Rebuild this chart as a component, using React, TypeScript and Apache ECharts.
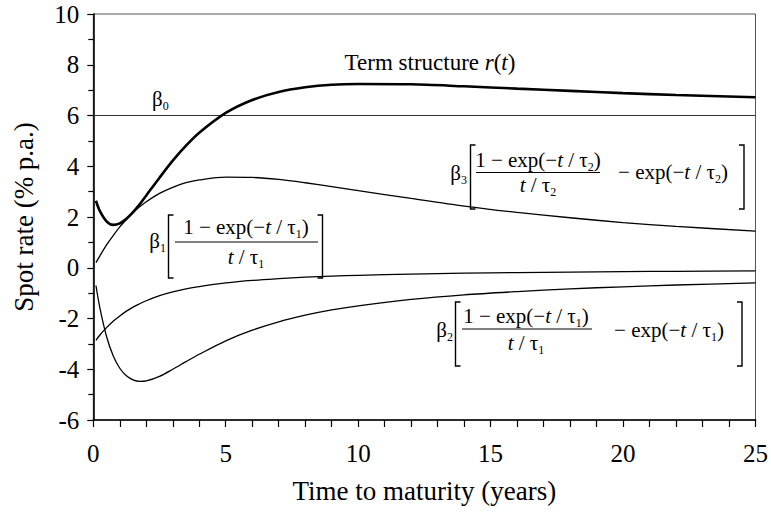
import React, { useEffect, useRef } from "react";
import * as echarts from "echarts";

const FONT = "Liberation Serif";

// Maturities (years) at which the curves were read
const MATURITIES = [0.1, 0.25, 0.5, 0.75, 1, 1.25, 1.5, 1.75, 2, 2.5, 3, 3.5, 4, 5, 6, 7, 8, 9, 10, 12, 14, 16, 18, 20, 22, 25];
// beta0 level
const LEVEL_X = [0, 25];
const LEVEL_Y = [6, 6];
// beta1 slope component
const SLOPE = [-2.86, -2.65, -2.36, -2.11, -1.9, -1.71, -1.55, -1.42, -1.3, -1.1, -0.95, -0.83, -0.74, -0.6, -0.5, -0.43, -0.37, -0.33, -0.3, -0.25, -0.21, -0.19, -0.17, -0.15, -0.14, -0.12];
// beta2 curvature component (tau1)
const CURV1 = [-0.7, -1.59, -2.71, -3.47, -3.96, -4.26, -4.42, -4.48, -4.46, -4.28, -4.0, -3.7, -3.41, -2.88, -2.46, -2.13, -1.87, -1.66, -1.5, -1.25, -1.07, -0.94, -0.83, -0.75, -0.68, -0.6];
// beta3 curvature component (tau2)
const CURV2 = [0.2, 0.47, 0.9, 1.27, 1.61, 1.9, 2.17, 2.4, 2.6, 2.93, 3.17, 3.35, 3.46, 3.57, 3.56, 3.48, 3.35, 3.2, 3.04, 2.73, 2.43, 2.18, 1.97, 1.78, 1.63, 1.44];
// term structure r(t)
const TERM = [2.64, 2.23, 1.83, 1.69, 1.75, 1.93, 2.19, 2.5, 2.85, 3.55, 4.22, 4.81, 5.32, 6.1, 6.61, 6.93, 7.11, 7.21, 7.24, 7.23, 7.15, 7.06, 6.97, 6.88, 6.81, 6.72];

const pairs = (xs: number[], ys: number[]) => xs.map((x, i) => [x, ys[i]]);

const RICH: any = {
  n: { fontFamily: FONT, fontSize: 21, lineHeight: 26, fill: "#000" },
  i: { fontFamily: FONT, fontSize: 21, lineHeight: 26, fontStyle: "italic", fill: "#000" },
  s: { fontFamily: FONT, fontSize: 12, lineHeight: 14, verticalAlign: "bottom", fill: "#000" },
  L: { fontFamily: FONT, fontSize: 23, lineHeight: 26, fill: "#000" },
  Li: { fontFamily: FONT, fontSize: 23, lineHeight: 26, fontStyle: "italic", fill: "#000" },
};

function txt(x: number, y: number, text: string, align: string = "center") {
  return {
    type: "text",
    x,
    y,
    silent: true,
    style: {
      text,
      rich: RICH,
      fill: "#000",
      fontFamily: FONT,
      fontSize: 21,
      align,
      verticalAlign: "middle",
      textAlign: align,
      textVerticalAlign: "middle",
    },
  };
}

function hline(x1: number, x2: number, y: number) {
  return { type: "line", silent: true, shape: { x1, y1: y, x2, y2: y }, style: { stroke: "#000", lineWidth: 1 } };
}

function bracket(x: number, top: number, bottom: number, dir: number) {
  return {
    type: "polyline",
    silent: true,
    shape: { points: [[x + dir * 5, top], [x, top], [x, bottom], [x + dir * 5, bottom]] },
    style: { stroke: "#000", lineWidth: 1.4, fill: null },
  };
}

const graphics: any[] = [
  // beta0 label
  txt(152, 99, "{n|β}{s|0}", "left"),
  // term structure label
  txt(430, 62, "{L|Term structure }{Li|r}{L|(}{Li|t}{L|)}"),
  // beta1 term
  txt(166, 241, "{n|β}{s|1}", "right"),
  bracket(168.5, 215, 278, 1),
  txt(246, 227, "{n|1 − exp(−}{i|t}{n| / τ}{s|1}{n|)}"),
  hline(175, 318, 242),
  txt(246, 257, "{i|t}{n| / τ}{s|1}"),
  bracket(322.5, 215, 278, -1),
  // beta3 term
  txt(467, 173, "{n|β}{s|3}", "right"),
  bracket(470.5, 145, 209, 1),
  txt(538, 160, "{n|1 − exp(−}{i|t}{n| / τ}{s|2}{n|)}"),
  hline(476, 600, 172.5),
  txt(538, 185, "{i|t}{n| / τ}{s|2}"),
  txt(673, 172, "{n|− exp(−}{i|t}{n| / τ}{s|2}{n|)}"),
  bracket(744, 145, 209, -1),
  // beta2 term
  txt(453, 330, "{n|β}{s|2}", "right"),
  bracket(455.5, 302, 366, 1),
  txt(526, 316, "{n|1 − exp(−}{i|t}{n| / τ}{s|1}{n|)}"),
  hline(462, 592, 329),
  txt(526, 343, "{i|t}{n| / τ}{s|1}"),
  txt(669, 330, "{n|− exp(−}{i|t}{n| / τ}{s|1}{n|)}"),
  bracket(742, 302, 366, -1),
];

const thin = { color: "#000", width: 1.3 };

const option: any = {
  animation: false,
  backgroundColor: "#fff",
  textStyle: { fontFamily: FONT },
  grid: {
    left: 93.3,
    right: 14.5,
    top: 14,
    bottom: 98,
    show: true,
    borderColor: "#555",
    borderWidth: 1,
    backgroundColor: "transparent",
  },
  xAxis: {
    type: "value",
    min: 0,
    max: 25,
    interval: 5,
    name: "Time to maturity (years)",
    nameLocation: "middle",
    nameGap: 57,
    nameTextStyle: { fontFamily: FONT, fontSize: 27, color: "#000" },
    axisLine: { show: true, onZero: false, lineStyle: { color: "#000", width: 1.6 } },
    axisTick: { show: true, length: 7, lineStyle: { color: "#000", width: 1.2 } },
    minorTick: { show: true, splitNumber: 5, length: 7, lineStyle: { color: "#000", width: 1.2 } },
    axisLabel: { fontFamily: FONT, fontSize: 25, color: "#000", margin: 21 },
    splitLine: { show: false },
  },
  yAxis: {
    type: "value",
    min: -6,
    max: 10,
    interval: 2,
    name: "Spot rate (% p.a.)",
    nameLocation: "middle",
    nameGap: 56,
    nameRotate: 90,
    nameTextStyle: { fontFamily: FONT, fontSize: 27, color: "#000" },
    axisLine: { show: true, onZero: false, lineStyle: { color: "#000", width: 1.6 } },
    axisTick: { show: true, length: 6, lineStyle: { color: "#000", width: 1.2 } },
    minorTick: { show: true, splitNumber: 2, length: 5, lineStyle: { color: "#000", width: 1.2 } },
    axisLabel: { fontFamily: FONT, fontSize: 25, color: "#000", margin: 14 },
    splitLine: { show: false },
  },
  series: [
    {
      name: "beta0",
      type: "line",
      data: pairs(LEVEL_X, LEVEL_Y),
      showSymbol: false,
      silent: true,
      lineStyle: { color: "#333", width: 1.2 },
    },
    {
      name: "slope",
      type: "line",
      data: pairs(MATURITIES, SLOPE),
      showSymbol: false,
      smooth: 0.3,
      silent: true,
      lineStyle: thin,
    },
    {
      name: "curvature1",
      type: "line",
      data: pairs(MATURITIES, CURV1),
      showSymbol: false,
      smooth: 0.3,
      silent: true,
      lineStyle: thin,
    },
    {
      name: "curvature2",
      type: "line",
      data: pairs(MATURITIES, CURV2),
      showSymbol: false,
      smooth: 0.3,
      silent: true,
      lineStyle: thin,
    },
    {
      name: "term",
      type: "line",
      data: pairs(MATURITIES, TERM),
      showSymbol: false,
      smooth: 0.3,
      silent: true,
      lineStyle: { color: "#000", width: 2.6 },
    },
  ],
  graphic: graphics,
};

export default function App() {
  const ref = useRef<HTMLDivElement>(null);
  useEffect(() => {
    const chart = echarts.init(ref.current as HTMLDivElement, null, { renderer: "svg" });
    chart.setOption(option);
    return () => chart.dispose();
  }, []);
  return (
    <div
      ref={ref}
      style={{ position: "fixed", left: 0, top: 0, width: 771, height: 518, background: "#fff" }}
    />
  );
}
